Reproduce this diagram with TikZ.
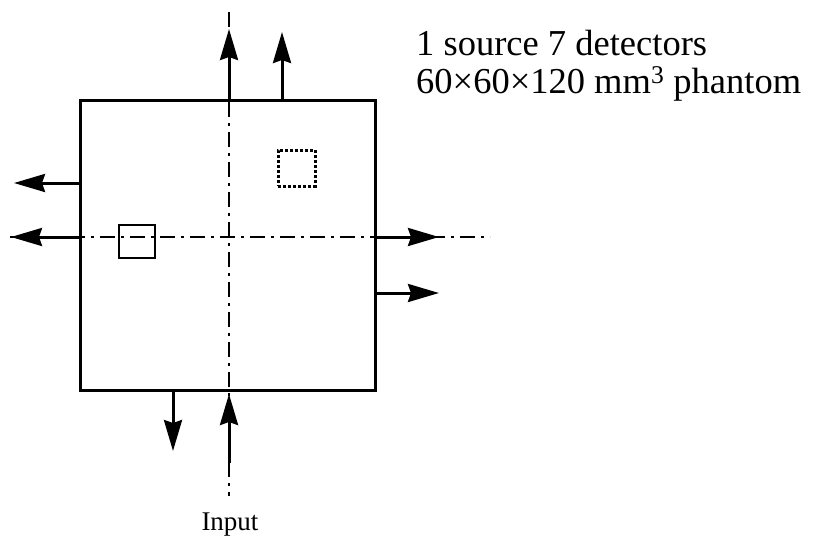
\documentclass[tikz,border=0pt]{standalone}
\usepackage{fontspec}
\setmainfont{Liberation Serif}
\usetikzlibrary{arrows.meta}
\tikzset{
  axisline/.style={line width=2pt, dash pattern=on 15pt off 6pt on 3pt off 6pt},
  outarrow/.style={line width=3pt, -{Stealth[length=31pt,width=18pt,inset=3pt]}},
  boxline/.style={draw, line width=3pt, inner sep=0pt},
  lbl/.style={inner sep=0pt, anchor=base west}
}
\begin{document}
\begin{tikzpicture}[x=1pt,y=-1pt]
\useasboundingbox (0,0) rectangle (836,542);
% phantom box
\node[boxline, minimum width=295pt, minimum height=290pt] (box) at (227.5,245) {};
% source / detector squares
\node[boxline, line width=2.8pt, minimum width=36pt, minimum height=33pt] (src) at (137,241.5) {};
\node[draw, line width=3pt, dotted, inner sep=0pt, minimum width=37pt, minimum height=36pt] (det) at (296.5,168) {};
% axes end points
\coordinate (vtop) at (229,12);
\coordinate (vbot) at (229,496);
\coordinate (hleft) at (10,237);
\coordinate (hright) at (490,237);
\draw[axisline] (vtop) -- (vbot);
\draw[axisline] (hleft) -- (hright);
% arrow coordinates
\coordinate (a1s) at (229,100); \coordinate (a1e) at (229,29);
\coordinate (a2s) at (282,100); \coordinate (a2e) at (282,32);
\coordinate (a3s) at (80,183);  \coordinate (a3e) at (14,183);
\coordinate (a4s) at (80,237);  \coordinate (a4e) at (11,237);
\coordinate (a5s) at (375,237); \coordinate (a5e) at (439,237);
\coordinate (a6s) at (375,293); \coordinate (a6e) at (439,293);
\coordinate (a7s) at (173,390); \coordinate (a7e) at (173,451);
\coordinate (a8s) at (229,463); \coordinate (a8e) at (229,394);
\draw[outarrow] (a1s) -- (a1e);
\draw[outarrow] (a2s) -- (a2e);
\draw[outarrow] (a3s) -- (a3e);
\draw[outarrow] (a4s) -- (a4e);
\draw[outarrow] (a5s) -- (a5e);
\draw[outarrow] (a6s) -- (a6e);
\draw[outarrow] (a7s) -- (a7e);
\draw[outarrow] (a8s) -- (a8e);
% labels
\node[lbl, font=\fontsize{36.5}{36.5}\selectfont] (t1) at (416,55) {1 source 7 detectors};
\node[lbl, font=\fontsize{36.5}{36.5}\selectfont] (t2) at (416,93) {60×60×120 mm\textsuperscript{3} phantom};
\node[inner sep=0pt, anchor=base, font=\fontsize{27}{27}\selectfont] (inp) at (230,530) {Input};
\end{tikzpicture}
\end{document}
